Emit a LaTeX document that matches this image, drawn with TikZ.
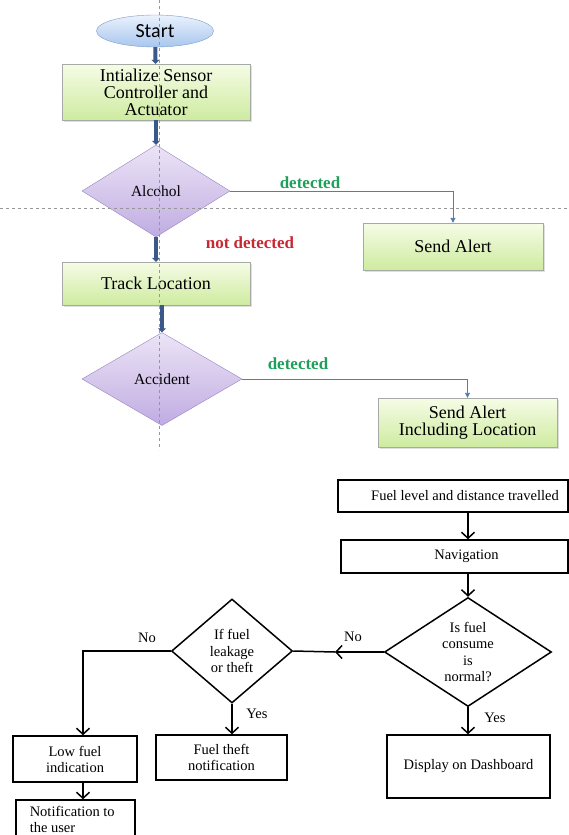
\documentclass[tikz,border=0pt]{standalone}
\usepackage{fontspec}
\setmainfont{Liberation Serif}
\newfontfamily\startfont{Carlito}
\usetikzlibrary{arrows.meta,positioning,shapes.geometric,shadows,calc}
\definecolor{fcBlueT}  {RGB}{234,242,253}
\definecolor{fcBlueB}  {RGB}{168,198,238}
\definecolor{fcBlueD}  {RGB}{125,155,200}
\definecolor{fcGreenT} {RGB}{246,252,230}
\definecolor{fcGreenB} {RGB}{206,235,160}
\definecolor{fcGreyB}  {RGB}{165,170,165}
\definecolor{fcLilacT} {RGB}{236,228,246}
\definecolor{fcLilacB} {RGB}{192,172,226}
\definecolor{fcLilacD} {RGB}{150,132,192}
\definecolor{fcArrow}  {RGB}{ 58, 88,138}
\definecolor{fcThin}   {RGB}{ 80,125,180}
\definecolor{fcGuide}  {RGB}{150,150,150}
\definecolor{fcDet}    {RGB}{ 30,160, 90}
\definecolor{fcNot}    {RGB}{200, 40, 50}

\begin{document}
\begin{tikzpicture}[x=1pt,y=-1pt,
  every node/.style={font=\rmfamily\fontsize{18}{17}\selectfont},
  startnode/.style={ellipse,draw=fcBlueD,top color=fcBlueT,bottom color=fcBlueB,
                    minimum width=117pt,minimum height=32pt,inner sep=0pt,
                    font=\startfont\fontsize{20}{22}\selectfont},
  greenbox/.style={draw=fcGreyB,top color=fcGreenT,bottom color=fcGreenB,
                   align=center,inner sep=0pt,font=\rmfamily\fontsize{18}{17}\selectfont,
                   drop shadow={shadow xshift=1.5pt,shadow yshift=-1.5pt,opacity=.25}},
  lilac/.style={diamond,draw=fcLilacD,top color=fcLilacT,bottom color=fcLilacB,
                inner sep=0pt,aspect=1.6,font=\rmfamily\fontsize{15.5}{17}\selectfont},
  thickflow/.style={fcArrow,line width=4pt,-{Triangle[length=4pt,width=8pt]}},
  thinflow/.style={fcThin,line width=0.9pt,-{Triangle[length=5pt,width=5pt]}},
  guide/.style={fcGuide,line width=0.6pt,dash pattern=on 3pt off 3pt},
  detlabel/.style={fcDet,font=\rmfamily\bfseries\fontsize{17}{17}\selectfont},
  bwbox/.style={draw,line width=1.5pt,inner sep=0pt,align=center,
                font=\rmfamily\fontsize{14.5}{16}\selectfont},
  bwdiam/.style={diamond,draw,line width=1.5pt,inner sep=0pt,align=center,
                 font=\rmfamily\fontsize{14.5}{16.3}\selectfont},
  bwline/.style={line width=1.5pt},
  bwflow/.style={line width=1.5pt,-{Straight Barb[length=6pt,width=13pt]}},
  bwlabel/.style={font=\rmfamily\fontsize{14.5}{16}\selectfont}
]
\useasboundingbox (0,0) rectangle (569,835);
\clip (0,0) rectangle (569,835);

% alert flow
\node[startnode] (start) at (155,31) {Start};
\node[greenbox,minimum width=188pt,minimum height=56pt] (init) at (156,92)
   {Intialize Sensor\\Controller and\\Actuator};
\node[lilac,minimum width=148pt,minimum height=92pt] (alcohol) at (156,191) {Alcohol};
\node[greenbox,minimum width=180pt,minimum height=47pt] (sendA) at (453,246.5) {Send Alert};
\node[greenbox,minimum width=188pt,minimum height=43pt] (track) at (156,283.5) {Track Location};
\node[lilac,minimum width=160pt,minimum height=93pt] (accident) at (162,379) {Accident};
\node[greenbox,minimum width=179pt,minimum height=49pt] (sendL) at (467.5,422.5)
   {Send Alert\\Including Location};

\node[detlabel] (det1) at (310,183) {detected};
\node[detlabel,fcNot] (notdet) at (250,243) {not detected};
\node[detlabel] (det2) at (298,364) {detected};

\foreach \i/\j in {start/init,init/alcohol,alcohol/track}
  \draw[thickflow] (\i) -- (\j);
\draw[thickflow] (track.south -| accident.north) -- (accident.north);
\draw[thinflow] (alcohol.east) -| (sendA.north);
\draw[thinflow] (accident.east) -| (sendL.north);

\draw[guide] (159,0) -- (159,450);
\draw[guide] (0,208) -- (569,208);

% fuel flow
\node[bwbox,minimum width=230pt,minimum height=32pt] (fuel) at (453,496)
   {\hspace*{24pt}Fuel level and distance travelled};
\node[bwbox,minimum width=227pt,minimum height=33pt] (nav) at (454.5,556.5)
   {\hspace*{24pt}Navigation};
\node[bwdiam,minimum width=167pt,minimum height=109pt,aspect=1.5] (norm) at (468,652)
   {Is fuel\\consume\\is\\normal?};
\node[bwbox,minimum width=163pt,minimum height=63pt] (disp) at (468.5,766.5)
   {Display on Dashboard};
\node[bwdiam,minimum width=121pt,minimum height=104pt,aspect=1.15] (leak) at (232,651)
   {If fuel\\leakage\\or theft};
\node[bwbox,minimum width=131pt,minimum height=45pt] (theft) at (221.5,757.5)
   {Fuel theft\\notification};
\node[bwbox,minimum width=124pt,minimum height=46pt] (low) at (75,759)
   {Low fuel\\indication};
\node[bwbox,minimum width=119pt,minimum height=38pt,align=left] (notify) at (75.5,819)
   {Notification to\\the user\hspace*{46pt}};

\node[bwlabel] (no1) at (353,637) {No};
\node[bwlabel] (yes1) at (495,718) {Yes};
\node[bwlabel] (no2) at (147,638) {No};
\node[bwlabel] (yes2) at (257,714) {Yes};

\coordinate (nomid) at (335,652);
\draw[bwflow] (fuel.south -| norm.north) -- (nav.north -| norm.north);
\draw[bwflow] (nav.south -| norm.north) -- (norm.north);
\draw[bwflow] (norm.south) -- (disp.north -| norm.south);
\draw[bwflow] (norm.west) -- (nomid);
\draw[bwline] (nomid) -- (leak.east);
\draw[bwflow] (leak.west) -| ([xshift=8pt]low.north);
\draw[bwflow] (leak.south) -- (leak.south |- theft.north);
\draw[bwflow] ([xshift=8pt]low.south) -- ([xshift=8pt]low.south |- notify.north);
\end{tikzpicture}
\end{document}
